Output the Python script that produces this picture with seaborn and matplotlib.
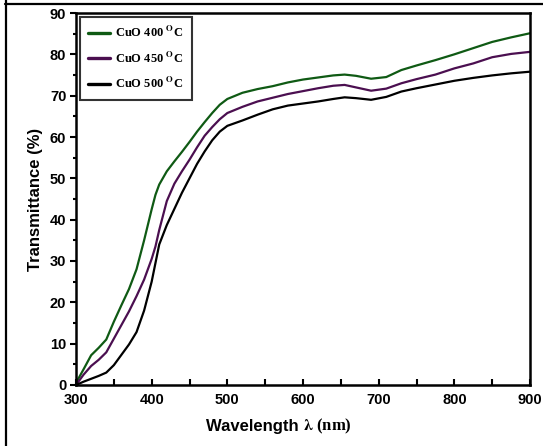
import numpy as np
import pandas as pd
import matplotlib
matplotlib.use("Agg")
import matplotlib.pyplot as plt
from matplotlib.lines import Line2D
import seaborn as sns

wavelength = [300, 310, 320, 330, 340, 350, 360, 370, 380, 390, 400, 405, 410, 420, 430,
              440, 450, 460, 470, 480, 490, 500, 520, 540, 560, 580, 600, 620, 640,
              655, 670, 690, 710, 730, 750, 775, 800, 825, 850, 875, 900]

cuo_400 = [0.5, 3.8, 7.2, 9.0, 11.0, 15.3, 19.3, 23.2, 28.0, 35.0, 42.5, 46.0, 48.5, 51.7, 54.1,
           56.4, 58.8, 61.3, 63.6, 65.8, 67.8, 69.2, 70.7, 71.6, 72.3, 73.2, 73.9, 74.4, 74.9,
           75.1, 74.8, 74.1, 74.5, 76.2, 77.3, 78.6, 80.0, 81.5, 83.0, 84.1, 85.1]

cuo_450 = [0.0, 2.5, 4.6, 6.1, 7.9, 11.2, 14.5, 17.8, 21.5, 25.5, 30.5, 33.5, 37.5, 44.5, 48.7,
           51.7, 54.5, 57.5, 60.3, 62.4, 64.3, 65.8, 67.3, 68.6, 69.5, 70.4, 71.1, 71.8, 72.4,
           72.6, 72.0, 71.2, 71.7, 73.0, 74.0, 75.1, 76.6, 77.8, 79.3, 80.1, 80.6]

cuo_500 = [0.0, 0.8, 1.5, 2.2, 3.0, 4.8, 7.3, 9.8, 12.8, 18.0, 25.0, 29.5, 34.0, 38.7, 42.6,
           46.5, 50.0, 53.5, 56.5, 59.2, 61.3, 62.7, 64.0, 65.4, 66.7, 67.6, 68.1, 68.6, 69.2,
           69.6, 69.4, 69.0, 69.7, 71.0, 71.8, 72.7, 73.6, 74.3, 74.9, 75.4, 75.8]

series_names = [r"CuO 400 $^{\mathbf{O}}$C", r"CuO 450 $^{\mathbf{O}}$C", r"CuO 500 $^{\mathbf{O}}$C"]
colors = ["#0f5a14", "#4b0f50", "#000000"]

x_ticks = [300, 400, 500, 600, 700, 800, 900]
y_ticks = [0, 10, 20, 30, 40, 50, 60, 70, 80, 90]

frames = []
for name, vals in zip(series_names, [cuo_400, cuo_450, cuo_500]):
    frames.append(pd.DataFrame({"Wavelength": wavelength, "Transmittance": vals, "Sample": name}))
df = pd.concat(frames, ignore_index=True)

sns.set_style("white")
plt.rcParams["font.family"] = ["Liberation Sans", "DejaVu Sans"]
plt.rcParams["mathtext.fontset"] = "stix"
plt.rcParams["text.color"] = "black"
plt.rcParams["axes.labelcolor"] = "black"
plt.rcParams["xtick.color"] = "black"
plt.rcParams["ytick.color"] = "black"

fig = plt.figure(figsize=(5.43, 4.46), dpi=100)
ax = fig.add_axes([76 / 543, 1 - 385 / 446, (530 - 76) / 543, (385 - 13) / 446])

sns.lineplot(data=df, x="Wavelength", y="Transmittance", hue="Sample",
             palette=dict(zip(series_names, colors)), linewidth=1.6, ax=ax,
             sort=False, estimator=None)

ax.set_xlim(300, 900)
ax.set_ylim(0, 90)
ax.set_xticks(x_ticks)
ax.set_yticks(y_ticks)
ax.set_xticks(np.arange(350, 900, 100), minor=True)
ax.set_yticks(np.arange(5, 90, 10), minor=True)
ax.set_xticklabels([str(t) for t in x_ticks], fontweight="bold", fontsize=10.5)
ax.set_yticklabels([str(t) for t in y_ticks], fontweight="bold", fontsize=10.5)
ax.tick_params(axis="x", which="both", direction="in", length=4, width=1.5, pad=6, bottom=True)
ax.tick_params(axis="y", which="major", direction="out", length=4, width=1.5, pad=3, left=True)
ax.tick_params(axis="y", which="minor", direction="out", length=2.5, width=1.5, left=True)

for sp in ax.spines.values():
    sp.set_visible(True)
    sp.set_color("black")
    sp.set_linewidth(1.8)

ax.set_xlabel("")
ax.set_ylabel("Transmittance (%)", fontweight="bold", fontsize=12, labelpad=5)

fig.text(303 / 543, 1 - 426 / 446, "Wavelength ", ha="right", va="center",
         fontsize=12, fontweight="bold")
fig.text(303 / 543, 1 - 426 / 446, r"$\mathbf{\lambda}$ (nm)", ha="left", va="center",
         fontsize=12, fontweight="bold", family="Liberation Serif")

leg = ax.legend(loc="upper left", bbox_to_anchor=(0.008, 0.99), borderaxespad=0,
                frameon=True, fancybox=False, handlelength=1.8, handletextpad=0.4,
                labelspacing=0.85, borderpad=0.65,
                prop={"family": "Liberation Serif", "weight": "bold", "size": 9})
leg.get_frame().set_edgecolor("black")
leg.get_frame().set_linewidth(1.5)
for h in leg.get_lines():
    h.set_linewidth(2.4)

fig.add_artist(Line2D([6 / 543, 6 / 543], [0, 1], transform=fig.transFigure,
                      color="black", linewidth=1.6))
fig.add_artist(Line2D([5 / 543, 1], [1 - 3.5 / 446, 1 - 3.5 / 446], transform=fig.transFigure,
                      color="black", linewidth=1.6))

fig.savefig("out.png", dpi=100)
